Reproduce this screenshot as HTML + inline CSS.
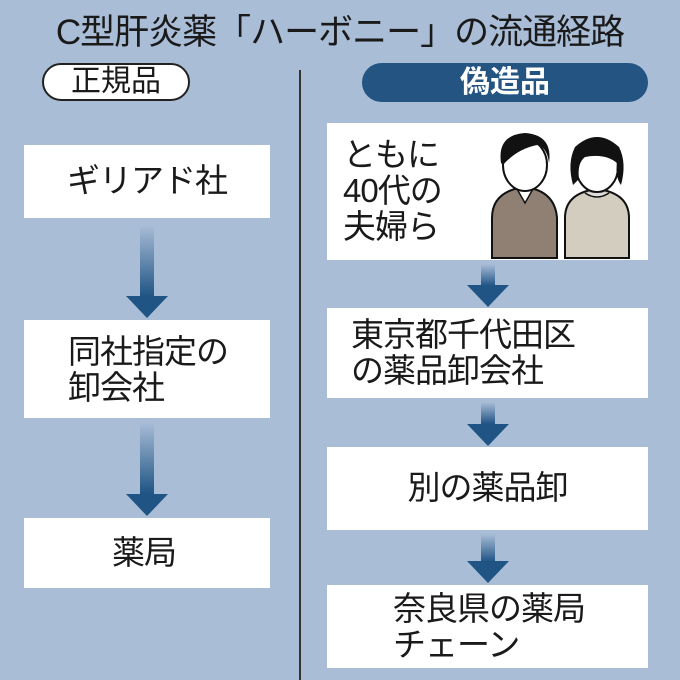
<!DOCTYPE html>
<html><head><meta charset="utf-8"><style>
body{margin:0;width:680px;height:680px;background:#a9bdd7;position:relative;overflow:hidden;font-family:"Liberation Sans","Noto Sans CJK JP",sans-serif;color:#1a1a1a}
.a{position:absolute}
.box{position:absolute;background:#fff;font-size:33px;line-height:36px;letter-spacing:-1px}
.t{position:absolute;left:0;right:0;text-align:center}
.shaft{position:absolute;width:14px;background:linear-gradient(#a9bdd7,#1f5484)}
.head{position:absolute;width:0;height:0;border-left:21px solid transparent;border-right:21px solid transparent;border-top:22px solid #1f5484}
</style></head><body>
<div class="a" style="left:0;width:680px;top:10px;text-align:center;font-size:35px;line-height:46px;letter-spacing:-1px">C型肝炎薬「ハーボニー」の流通経路</div>
<div class="a" style="left:42px;top:63px;width:144px;height:34px;border:2px solid #222;border-radius:20px;background:#fff;text-align:center;font-size:30px;line-height:34px">正規品</div>
<div class="a" style="left:362px;top:63px;width:286px;height:39px;border-radius:20px;background:#235482;color:#fff;text-align:center;font-size:30px;line-height:39px;font-weight:bold">偽造品</div>
<div class="a" style="left:299px;top:70px;width:2px;height:610px;background:#333"></div>

<div class="box" style="left:24px;top:145px;width:246px;height:73px"><div class="t" style="top:18px">ギリアド社</div></div>
<div class="box" style="left:24px;top:320px;width:246px;height:98px"><div class="a" style="left:44px;top:14px">同社指定の<br>卸会社</div></div>
<div class="box" style="left:24px;top:518px;width:246px;height:70px"><div class="a" style="left:88px;top:17px">薬局</div></div>

<div class="shaft" style="left:140px;top:225px;height:72px"></div><div class="head" style="left:126px;top:296px"></div>
<div class="shaft" style="left:140px;top:422px;height:72px"></div><div class="head" style="left:126px;top:494px"></div>

<div class="box" style="left:327px;top:123px;width:321px;height:137px">
<div class="a" style="left:16px;top:14px;line-height:36px">ともに<br>40代の<br>夫婦ら</div>
<svg class="a" style="left:160px;top:0" width="150" height="137" viewBox="0 0 150 137">
<path d="M5 135 V95 Q5 68 38 64 Q68 68 70 95 V135Z" fill="#8f8073" stroke="#111" stroke-width="2"/>
<path d="M30 66 L38 80 L46 66" fill="#fff" stroke="#111" stroke-width="1.5"/>
<ellipse cx="38" cy="42" rx="22" ry="26" fill="#fff" stroke="#111" stroke-width="2"/>
<path d="M14 40 Q10 12 38 10 Q66 12 62 40 Q60 24 50 22 Q30 26 16 42Z" fill="#111"/>
<path d="M78 135 V95 Q78 70 110 66 Q142 70 142 95 V135Z" fill="#d3cdbf" stroke="#111" stroke-width="2"/>
<path d="M98 70 Q110 78 122 70" fill="#ddd" stroke="#111" stroke-width="1.5"/>
<ellipse cx="110" cy="44" rx="21" ry="25" fill="#fff" stroke="#111" stroke-width="2"/>
<path d="M86 62 Q80 40 88 24 Q110 4 132 24 Q140 40 134 62 Q128 54 130 40 Q118 30 98 34 Q90 40 92 56Z" fill="#111"/>
</svg></div>
<div class="box" style="left:327px;top:308px;width:321px;height:90px"><div class="a" style="left:24px;top:9px">東京都千代田区<br>の薬品卸会社</div></div>
<div class="box" style="left:327px;top:447px;width:321px;height:83px"><div class="t" style="top:23px">別の薬品卸</div></div>
<div class="box" style="left:327px;top:585px;width:321px;height:83px"><div class="a" style="left:66px;top:6px">奈良県の薬局<br>チェーン</div></div>

<div class="shaft" style="left:481px;top:264px;height:22px"></div><div class="head" style="left:467px;top:285px"></div>
<div class="shaft" style="left:481px;top:402px;height:22px"></div><div class="head" style="left:467px;top:424px"></div>
<div class="shaft" style="left:481px;top:534px;height:28px"></div><div class="head" style="left:467px;top:561px"></div>
</body></html>
